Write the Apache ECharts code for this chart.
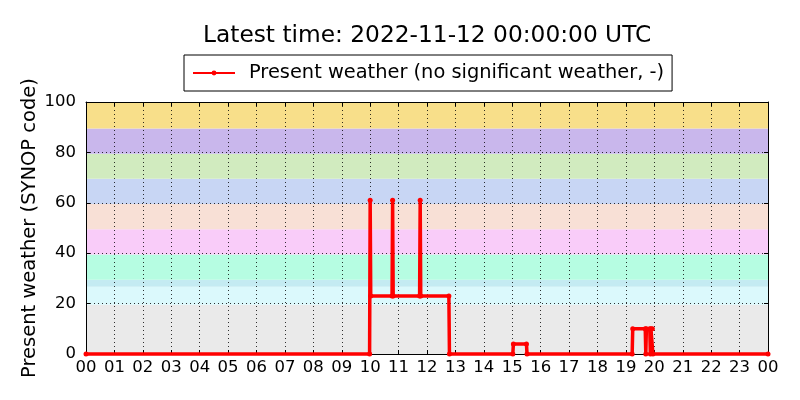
<!DOCTYPE html>
<html>
<head>
<meta charset="utf-8">
<script src="https://cdn.jsdelivr.net/npm/echarts@6/dist/echarts.min.js"></script>
<style>
html,body{margin:0;padding:0;background:#fff;}
#chart{width:800px;height:400px;}
</style>
</head>
<body>
<div id="chart"></div>
<script>
// Time of observation (hours UTC) and present weather SYNOP code
const hours = [0, 9.98, 10.0, 10.02, 10.77, 10.79, 10.81, 11.74, 11.76, 11.78, 12.77, 12.79,
  15.02, 15.04, 15.50, 15.52, 19.22, 19.24, 19.68, 19.70, 19.72, 19.84, 19.86, 19.88, 19.93, 19.95, 24];
const weatherCode = [0, 0, 61, 23, 23, 61, 23, 23, 61, 23, 23, 0,
  0, 4, 4, 0, 0, 10, 10, 0, 10, 10, 0, 10, 10, 0, 0];

const xTickLabels = ['00','01','02','03','04','05','06','07','08','09','10','11','12',
  '13','14','15','16','17','18','19','20','21','22','23','00'];

// Background bands of SYNOP code groups
const bandLower = [0, 19.5, 26.7, 29.5, 39.5, 49.5, 59.5, 69.5, 79.5, 89.5];
const bandUpper = [19.5, 26.7, 29.5, 39.5, 49.5, 59.5, 69.5, 79.5, 89.5, 100];
const bandColors = ['#eaeaea', '#dbf9fc', '#c4ebf2', '#b6fde2', '#f9ccf9', '#f8e0d6',
  '#c8d6f4', '#d1ebbf', '#c9b7ec', '#f8df8a'];

const seriesName = 'Present weather (no significant weather, -)';
const titleText = 'Latest time: 2022-11-12 00:00:00 UTC';
const yName = 'Present weather (SYNOP code)';

const FONT = 'DejaVu Sans';
const chart = echarts.init(document.getElementById('chart'), null, {renderer: 'canvas'});

const lineData = hours.map((h, i) => [h, weatherCode[i]]);
const bandAreas = bandLower.map((lo, i) => [
  {yAxis: lo, itemStyle: {color: bandColors[i], opacity: 1}},
  {yAxis: bandUpper[i]}
]);

const grid = {left: 86, right: 32, top: 102, bottom: 46};
const dotted = {show: true, lineStyle: {color: '#000', type: [1, 3], width: 1, opacity: 0.8}};

chart.setOption({
  animation: false,
  backgroundColor: '#fff',
  title: {
    text: titleText,
    left: 198, top: 19,
    textStyle: {fontFamily: FONT, fontSize: 23.3, fontWeight: 'normal', color: '#000'}
  },
  legend: {
    data: [seriesName],
    left: 184, top: 55,
    padding: [8.5, 8, 8.5, 8],
    borderColor: '#000', borderWidth: 1, borderRadius: 0,
    itemWidth: 42, itemHeight: 6,
    textStyle: {fontFamily: FONT, fontSize: 19.4, color: '#000', padding: [0, 0, 0, 9]}
  },
  grid: grid,
  xAxis: [{
    type: 'value', min: 0, max: 24, interval: 1, z: 3,
    axisLine: {show: true, onZero: false, lineStyle: {color: '#000', width: 1}},
    axisTick: {show: true, inside: true, length: 4, lineStyle: {color: '#000'}},
    axisLabel: {fontFamily: FONT, fontSize: 16.5, color: '#000', margin: 5,
      formatter: v => xTickLabels[Math.round(v)]},
    splitLine: dotted
  }, {
    type: 'value', min: 0, max: 24, interval: 1, position: 'top', z: 3,
    axisLine: {show: true, onZero: false, lineStyle: {color: '#000', width: 1}},
    axisTick: {show: true, inside: true, length: 4, lineStyle: {color: '#000'}},
    axisLabel: {show: false}, splitLine: {show: false}
  }],
  yAxis: [{
    type: 'value', min: 0, max: 100, interval: 20, z: 3,
    name: yName, nameLocation: 'middle', nameGap: 46, nameRotate: 90,
    nameMoveOverlap: false,
    nameTextStyle: {fontFamily: FONT, fontSize: 19.5, color: '#000'},
    axisLine: {show: true, onZero: false, lineStyle: {color: '#000', width: 1}},
    axisTick: {show: true, inside: true, length: 4, lineStyle: {color: '#000'}},
    axisLabel: {fontFamily: FONT, fontSize: 16.5, color: '#000', margin: 10},
    splitLine: dotted
  }, {
    type: 'value', min: 0, max: 100, interval: 20, position: 'right', z: 3,
    axisLine: {show: true, onZero: false, lineStyle: {color: '#000', width: 1}},
    axisTick: {show: true, inside: true, length: 4, lineStyle: {color: '#000'}},
    axisLabel: {show: false}, splitLine: {show: false}
  }],
  series: [{
    name: 'bands', type: 'line', data: [], z: 1, silent: true,
    markArea: {silent: true, data: bandAreas}
  }, {
    name: seriesName, type: 'line', z: 5,
    data: lineData,
    symbol: 'circle', symbolSize: 5, showAllSymbol: true,
    clip: false,
    itemStyle: {color: '#ff0000'},
    lineStyle: {color: '#ff0000', width: 3.5},
    emphasis: {disabled: true}
  }]
});
</script>
</body>
</html>
